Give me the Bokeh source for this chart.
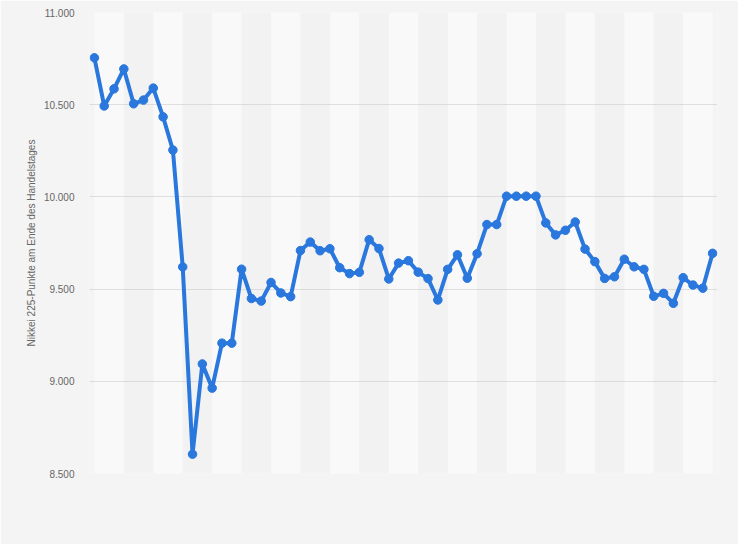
from bokeh.plotting import figure
from bokeh.models import Range1d, FixedTicker, ColumnDataSource
from bokeh.embed import file_html
from bokeh.resources import INLINE

# Nikkei 225 closing points (trading days, March - May 2011)
closing_values = [
    10754, 10493, 10586, 10694, 10505, 10525, 10590, 10434, 10254, 9620,
    8605, 9094, 8963, 9207, 9207, 9608, 9449, 9435, 9536, 9479,
    9459, 9709, 9755, 9708, 9719, 9616, 9584, 9591, 9768, 9720,
    9555, 9641, 9654, 9592, 9557, 9441, 9607, 9686, 9559, 9692,
    9850, 9850, 10004, 10004, 10004, 10004, 9859, 9794, 9819, 9864,
    9717, 9649, 9558, 9567, 9662, 9621, 9607, 9461, 9477, 9423,
    9562, 9522, 9505, 9694,
]
y_ticks = [8500, 9000, 9500, 10000, 10500, 11000]
y_tick_labels = ["8.500", "9.000", "9.500", "10.000", "10.500", "11.000"]
y_axis_title = "Nikkei 225-Punkte am Ende des Handelstages"

BG = "#f4f4f4"
LINE = "#2a77dd"

n = len(closing_values)
x = list(range(n))
src = ColumnDataSource(dict(x=x, y=closing_values))

p = figure(width=738, height=544, output_backend="svg", toolbar_location=None,
           x_range=Range1d(-0.5, n - 0.5), y_range=Range1d(y_ticks[0], y_ticks[-1]),
           min_border_left=89, min_border_right=21, min_border_top=12,
           min_border_bottom=71)
p.background_fill_color = BG
p.border_fill_color = BG
p.outline_line_color = None

# alternating vertical bands (3 trading days each)
lefts_w, rights_w, lefts_g, rights_g = [], [], [], []
k = 0
start = 0
while start < n - 1:
    end = min(start + 3, n - 1)
    if k % 2 == 0:
        lefts_w.append(start); rights_w.append(end)
    else:
        lefts_g.append(start); rights_g.append(end)
    start = end
    k += 1
p.quad(left=lefts_w, right=rights_w, bottom=y_ticks[0], top=y_ticks[-1],
       fill_color="#f9f9f9", line_color=None, level="underlay")
p.quad(left=lefts_g, right=rights_g, bottom=y_ticks[0], top=y_ticks[-1],
       fill_color="#f2f2f2", line_color=None, level="underlay")

p.xgrid.visible = False
p.ygrid.grid_line_color = "#c4c4c4"
p.ygrid.grid_line_dash = "1 1"
p.ygrid.grid_line_width = 1

p.xaxis.visible = False
ya = p.yaxis[0]
ya.ticker = FixedTicker(ticks=y_ticks)
ya.major_label_overrides = {t: l for t, l in zip(y_ticks, y_tick_labels)}
ya.axis_line_color = None
ya.major_tick_line_color = None
ya.minor_tick_line_color = None
ya.major_tick_out = 0
ya.major_tick_in = 0
ya.major_label_standoff = 15
ya.major_label_text_font = "Liberation Sans"
ya.major_label_text_font_size = "10px"
ya.major_label_text_color = "#666666"
ya.axis_label = y_axis_title
ya.axis_label_text_font = "Liberation Sans"
ya.axis_label_text_font_size = "10px"
ya.axis_label_text_font_style = "normal"
ya.axis_label_text_color = "#666666"
ya.axis_label_standoff = 4

p.line("x", "y", source=src, line_color=LINE, line_width=4, line_join="round")
p.scatter("x", "y", source=src, size=8.5, fill_color=LINE, line_color=LINE)

html = file_html(p, INLINE)
html = html.replace("<body>", '<body style="background-color:%s;">' % BG, 1)
open("out.html", "w").write(html)
